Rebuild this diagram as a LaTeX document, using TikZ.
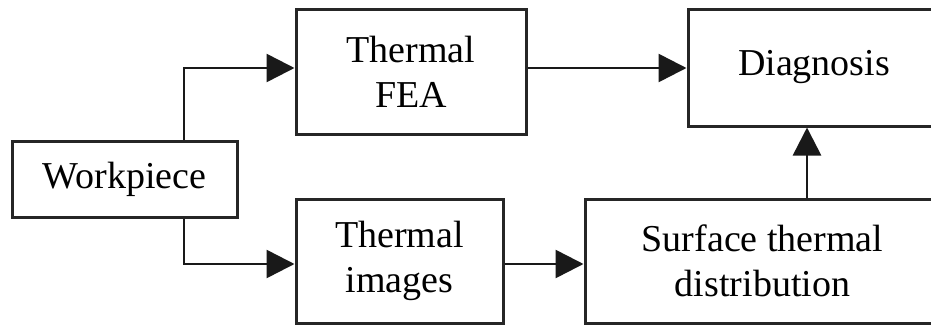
\documentclass[tikz,border=0pt]{standalone}
\usepackage{fontspec}
\setmainfont{Liberation Serif}
\usetikzlibrary{arrows.meta}
\begin{document}
\begin{tikzpicture}[x=1pt,y=1pt,
  blk/.style={draw=black!85, line width=3pt, fill=white, inner sep=0pt, align=center,
    font=\fontsize{38}{45}\selectfont},
  arr/.style={draw=black!90, line width=2.6pt, -{Triangle[length=28pt,width=28pt]}}]
\clip (0,0) rectangle (931,325);
\fill[white] (0,0) rectangle (931,325);
\node[blk, minimum width=225pt, minimum height=76pt] (wp) at (124.5,146) {Workpiece};
\node[blk, minimum width=230pt, minimum height=125pt] (fea) at (411,253.5) {Thermal\\FEA};
\node[blk, minimum width=252pt, minimum height=117pt] (diag) at (814,257.5) {Diagnosis};
\node[blk, minimum width=207pt, minimum height=124pt] (img) at (399.5,64) {Thermal\\images};
\node[blk, minimum width=355pt, minimum height=124pt] (surf) at (762.5,64) {Surface thermal\\distribution};
\coordinate (wpn) at ([xshift=59.5pt]wp.north);
\coordinate (wps) at ([xshift=59.5pt]wp.south);
\coordinate (surfn) at ([xshift=44.5pt]surf.north);
\draw[arr] (wpn) |- ([yshift=3.5pt]fea.west);
\draw[arr] (wps) |- ([yshift=-3pt]img.west);
\draw[arr] ([yshift=3.5pt]fea.east) -- ([yshift=3.5pt]fea.east -| diag.west);
\draw[arr] ([yshift=-3pt]img.east) -- ([yshift=-3pt]img.east -| surf.west);
\draw[arr] (surfn) -- (surfn |- diag.south);
\end{tikzpicture}
\end{document}
